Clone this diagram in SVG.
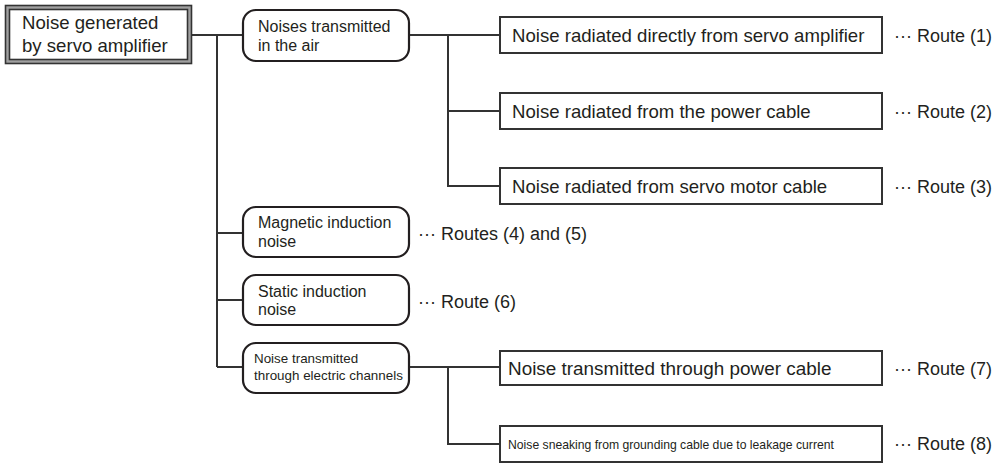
<svg xmlns="http://www.w3.org/2000/svg" width="998" height="464" viewBox="0 0 998 464">
<style>
text{font-family:"Liberation Sans",Arial,sans-serif;fill:#231f20}
.box{fill:#fff;stroke:#333;stroke-width:2}
.rbox{fill:#fff;stroke:#231f20;stroke-width:2.2}
.conn{fill:none;stroke:#333;stroke-width:2}
.t18{font-size:18.6px}
.t16{font-size:16px}
.t13{font-size:13.4px}
.t12{font-size:12.2px}
.route{font-size:18px}
</style>
<rect width="998" height="464" fill="#fff"/>
<g id="connectors">
<path class="conn" d="M192 35H243M217 35V367M217 233H243M217 300H243M217 367H243"/>
<path class="conn" d="M409 35H500M448 35V186H500M448 111H500"/>
<path class="conn" d="M409 367H500M448 367V444H500"/>
</g>
<g id="root">
<rect x="5.5" y="5.5" width="186" height="58" fill="#a0a0a0" stroke="#333" stroke-width="1.6"/>
<rect x="9.5" y="9.5" width="178" height="50" fill="#fff" stroke="#333" stroke-width="1.6"/>
<text class="t18" x="22" y="29">Noise generated</text>
<text class="t18" x="22" y="52">by servo amplifier</text>
</g>
<g id="air">
<rect class="rbox" x="243" y="10" width="166" height="51" rx="13"/>
<text class="t16" x="258" y="32">Noises transmitted</text>
<text class="t16" x="258" y="51">in the air</text>
</g>
<g id="route1">
<rect class="box" x="500" y="17" width="382" height="36"/>
<text class="t18" x="512" y="42">Noise radiated directly from servo amplifier</text>
<text class="route" y="42"><tspan x="894">···</tspan><tspan x="917">Route (1)</tspan></text>
</g>
<g id="route2">
<rect class="box" x="500" y="93" width="382" height="36"/>
<text class="t18" x="512" y="118">Noise radiated from the power cable</text>
<text class="route" y="118"><tspan x="894">···</tspan><tspan x="917">Route (2)</tspan></text>
</g>
<g id="route3">
<rect class="box" x="500" y="168" width="382" height="36"/>
<text class="t18" x="512" y="193">Noise radiated from servo motor cable</text>
<text class="route" y="193"><tspan x="894">···</tspan><tspan x="917">Route (3)</tspan></text>
</g>
<g id="magnetic">
<rect class="rbox" x="243" y="207" width="166" height="50" rx="13"/>
<text class="t16" x="258" y="228">Magnetic induction</text>
<text class="t16" x="258" y="247">noise</text>
<text class="route" y="240"><tspan x="418">···</tspan><tspan x="441">Routes (4) and (5)</tspan></text>
</g>
<g id="static">
<rect class="rbox" x="243" y="275" width="166" height="50" rx="13"/>
<text class="t16" x="258" y="297">Static induction</text>
<text class="t16" x="258" y="315">noise</text>
<text class="route" y="308"><tspan x="418">···</tspan><tspan x="441">Route (6)</tspan></text>
</g>
<g id="electric">
<rect class="rbox" x="243" y="343" width="166" height="50" rx="13"/>
<text class="t13" x="254" y="363">Noise transmitted</text>
<text class="t13" x="254" y="380">through electric channels</text>
</g>
<g id="route7">
<rect class="box" x="500" y="351" width="382" height="34"/>
<text class="t18" x="508" y="375" style="font-size:18.9px">Noise transmitted through power cable</text>
<text class="route" y="375"><tspan x="894">···</tspan><tspan x="917">Route (7)</tspan></text>
</g>
<g id="route8">
<rect class="box" x="500" y="426" width="382" height="36"/>
<text class="t12" x="508" y="449">Noise sneaking from grounding cable due to leakage current</text>
<text class="route" y="450"><tspan x="894">···</tspan><tspan x="917">Route (8)</tspan></text>
</g>
</svg>
